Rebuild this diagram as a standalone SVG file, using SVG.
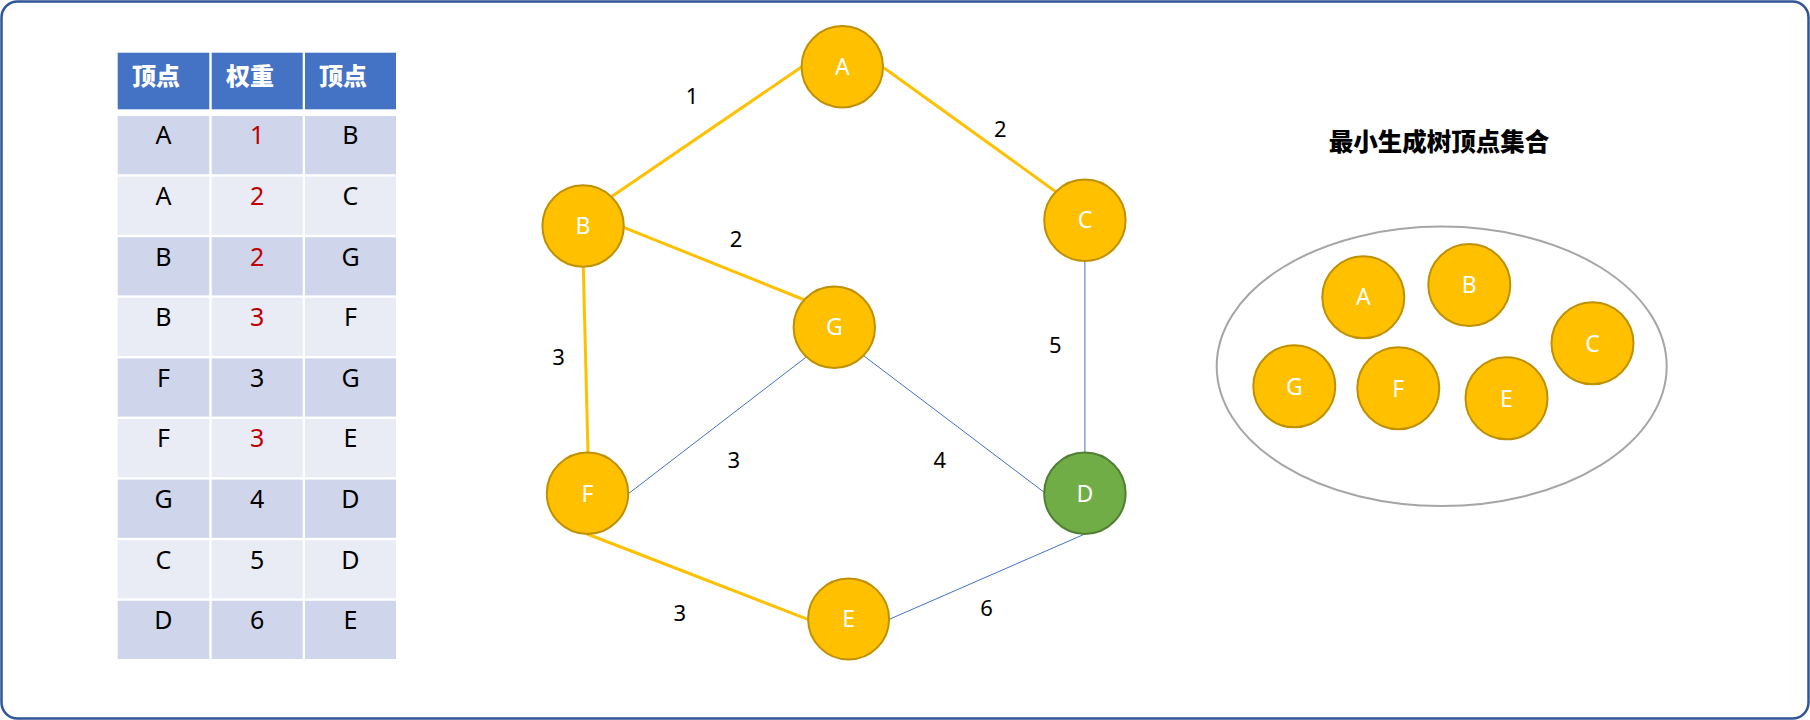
<svg xmlns="http://www.w3.org/2000/svg" width="1810" height="720" viewBox="0 0 1810 720">
<style>
.hd{fill:#4472C4}
.r1{fill:#CFD5EA}
.r2{fill:#E9EBF5}
.ht{font-family:"Noto Sans CJK SC","Noto Sans",sans-serif;font-weight:900;font-size:24px;fill:#fff}
.ct{font-family:"Noto Sans","Noto Sans CJK SC",sans-serif;font-size:25px;fill:#000;text-anchor:middle}
.red{fill:#C00000}
.nd{fill:#FFC000;stroke:#BF9000;stroke-width:2}
.nd2{fill:#70AD47;stroke:#507E32;stroke-width:2}
.nt{font-family:"Noto Sans",sans-serif;font-size:23px;fill:#fff;text-anchor:middle}
.el{font-family:"Noto Sans",sans-serif;font-size:22px;fill:#000;text-anchor:middle}
.y{stroke:#FFC000;stroke-width:3;fill:none}
.b{stroke:#4472C4;stroke-width:1;fill:none}
.ttl{font-family:"Noto Sans CJK SC",sans-serif;font-weight:900;font-size:24.5px;fill:#000;text-anchor:middle}
</style>
<rect x="1.5" y="1.5" width="1807" height="717" rx="16" fill="#fff" stroke="#2F5597" stroke-width="2.5"/>
<g id="table">
<rect class="hd" x="117.7" y="52.7" width="91.6" height="56.6"/>
<rect class="hd" x="211.7" y="52.7" width="91" height="56.6"/>
<rect class="hd" x="305" y="52.7" width="91" height="56.6"/>
<text class="ht" x="132" y="85">顶点</text>
<text class="ht" x="226" y="85">权重</text>
<text class="ht" x="319" y="85">顶点</text>
<g>
<rect class="r1" x="117.7" y="116" width="91.6" height="58.2"/><rect class="r1" x="211.7" y="116" width="91" height="58.2"/><rect class="r1" x="305" y="116" width="91" height="58.2"/>
<rect class="r2" x="117.7" y="176.6" width="91.6" height="58.2"/><rect class="r2" x="211.7" y="176.6" width="91" height="58.2"/><rect class="r2" x="305" y="176.6" width="91" height="58.2"/>
<rect class="r1" x="117.7" y="237.2" width="91.6" height="58.2"/><rect class="r1" x="211.7" y="237.2" width="91" height="58.2"/><rect class="r1" x="305" y="237.2" width="91" height="58.2"/>
<rect class="r2" x="117.7" y="297.8" width="91.6" height="58.2"/><rect class="r2" x="211.7" y="297.8" width="91" height="58.2"/><rect class="r2" x="305" y="297.8" width="91" height="58.2"/>
<rect class="r1" x="117.7" y="358.4" width="91.6" height="58.2"/><rect class="r1" x="211.7" y="358.4" width="91" height="58.2"/><rect class="r1" x="305" y="358.4" width="91" height="58.2"/>
<rect class="r2" x="117.7" y="419" width="91.6" height="58.2"/><rect class="r2" x="211.7" y="419" width="91" height="58.2"/><rect class="r2" x="305" y="419" width="91" height="58.2"/>
<rect class="r1" x="117.7" y="479.6" width="91.6" height="58.2"/><rect class="r1" x="211.7" y="479.6" width="91" height="58.2"/><rect class="r1" x="305" y="479.6" width="91" height="58.2"/>
<rect class="r2" x="117.7" y="540.2" width="91.6" height="58.2"/><rect class="r2" x="211.7" y="540.2" width="91" height="58.2"/><rect class="r2" x="305" y="540.2" width="91" height="58.2"/>
<rect class="r1" x="117.7" y="600.8" width="91.6" height="58.2"/><rect class="r1" x="211.7" y="600.8" width="91" height="58.2"/><rect class="r1" x="305" y="600.8" width="91" height="58.2"/>
</g>
<g>
<text class="ct" x="163.5" y="144.3">A</text><text class="ct red" x="257.2" y="144.3">1</text><text class="ct" x="350.5" y="144.3">B</text>
<text class="ct" x="163.5" y="204.9">A</text><text class="ct red" x="257.2" y="204.9">2</text><text class="ct" x="350.5" y="204.9">C</text>
<text class="ct" x="163.5" y="265.5">B</text><text class="ct red" x="257.2" y="265.5">2</text><text class="ct" x="350.5" y="265.5">G</text>
<text class="ct" x="163.5" y="326.1">B</text><text class="ct red" x="257.2" y="326.1">3</text><text class="ct" x="350.5" y="326.1">F</text>
<text class="ct" x="163.5" y="386.7">F</text><text class="ct" x="257.2" y="386.7">3</text><text class="ct" x="350.5" y="386.7">G</text>
<text class="ct" x="163.5" y="447.3">F</text><text class="ct red" x="257.2" y="447.3">3</text><text class="ct" x="350.5" y="447.3">E</text>
<text class="ct" x="163.5" y="507.9">G</text><text class="ct" x="257.2" y="507.9">4</text><text class="ct" x="350.5" y="507.9">D</text>
<text class="ct" x="163.5" y="568.5">C</text><text class="ct" x="257.2" y="568.5">5</text><text class="ct" x="350.5" y="568.5">D</text>
<text class="ct" x="163.5" y="629.1">D</text><text class="ct" x="257.2" y="629.1">6</text><text class="ct" x="350.5" y="629.1">E</text>
</g>
</g>
<g id="connectors">
<line class="y" x1="801.5" y1="67" x2="612.1" y2="196.3"/>
<line class="y" x1="883.8" y1="67.7" x2="1055.8" y2="191.7"/>
<line class="y" x1="623.6" y1="227.3" x2="804.7" y2="300"/>
<line class="y" x1="583.3" y1="266.7" x2="588" y2="452.7"/>
<line class="b" x1="1084.9" y1="261" x2="1084.9" y2="452.7"/>
<line class="b" x1="805.9" y1="357.3" x2="628" y2="494"/>
<line class="b" x1="864" y1="356" x2="1044.7" y2="492.7"/>
<line class="y" x1="587.2" y1="534" x2="807.9" y2="619.3"/>
<line class="b" x1="889.3" y1="619.3" x2="1084.9" y2="534"/>
<text class="el" x="692" y="104">1</text>
<text class="el" x="1000.4" y="137.3">2</text>
<text class="el" x="736.1" y="246.7">2</text>
<text class="el" x="558.6" y="365">3</text>
<text class="el" x="1055.4" y="353.3">5</text>
<text class="el" x="733.9" y="467.7">3</text>
<text class="el" x="939.7" y="467.7">4</text>
<text class="el" x="679.7" y="620.7">3</text>
<text class="el" x="986.6" y="615.7">6</text>
</g>
<g id="node-A"><circle class="nd" cx="842.3" cy="66.8" r="40.7"/><text class="nt" x="842.3" y="75">A</text></g>
<g id="node-B"><circle class="nd" cx="583.1" cy="226" r="40.7"/><text class="nt" x="583.1" y="234.2">B</text></g>
<g id="node-C"><circle class="nd" cx="1084.9" cy="220.2" r="40.7"/><text class="nt" x="1084.9" y="228.4">C</text></g>
<g id="node-G"><circle class="nd" cx="834.3" cy="327.2" r="40.7"/><text class="nt" x="834.3" y="335.4">G</text></g>
<g id="node-F"><circle class="nd" cx="587.5" cy="493.3" r="40.7"/><text class="nt" x="587.5" y="501.5">F</text></g>
<g id="node-D"><circle class="nd2" cx="1084.9" cy="493.3" r="40.7"/><text class="nt" x="1084.9" y="501.5">D</text></g>
<g id="node-E"><circle class="nd" cx="848.6" cy="619" r="40.5"/><text class="nt" x="848.6" y="627.2">E</text></g>
<g id="set">
<text class="ttl" x="1439" y="151">最小生成树顶点集合</text>
<ellipse cx="1441.7" cy="366.3" rx="225" ry="139.7" fill="none" stroke="#A6A6A6" stroke-width="2"/>
</g>
<g id="set-A"><circle class="nd" cx="1363.3" cy="297.2" r="41"/><text class="nt" x="1363.3" y="305.4">A</text></g>
<g id="set-B"><circle class="nd" cx="1469.3" cy="285" r="41"/><text class="nt" x="1469.3" y="293.2">B</text></g>
<g id="set-C"><circle class="nd" cx="1592.5" cy="343.3" r="41"/><text class="nt" x="1592.5" y="351.5">C</text></g>
<g id="set-G"><circle class="nd" cx="1294.3" cy="386.3" r="41"/><text class="nt" x="1294.3" y="394.5">G</text></g>
<g id="set-F"><circle class="nd" cx="1398.3" cy="388.3" r="41"/><text class="nt" x="1398.3" y="396.5">F</text></g>
<g id="set-E"><circle class="nd" cx="1506.5" cy="398.3" r="41"/><text class="nt" x="1506.5" y="406.5">E</text></g>
</svg>
